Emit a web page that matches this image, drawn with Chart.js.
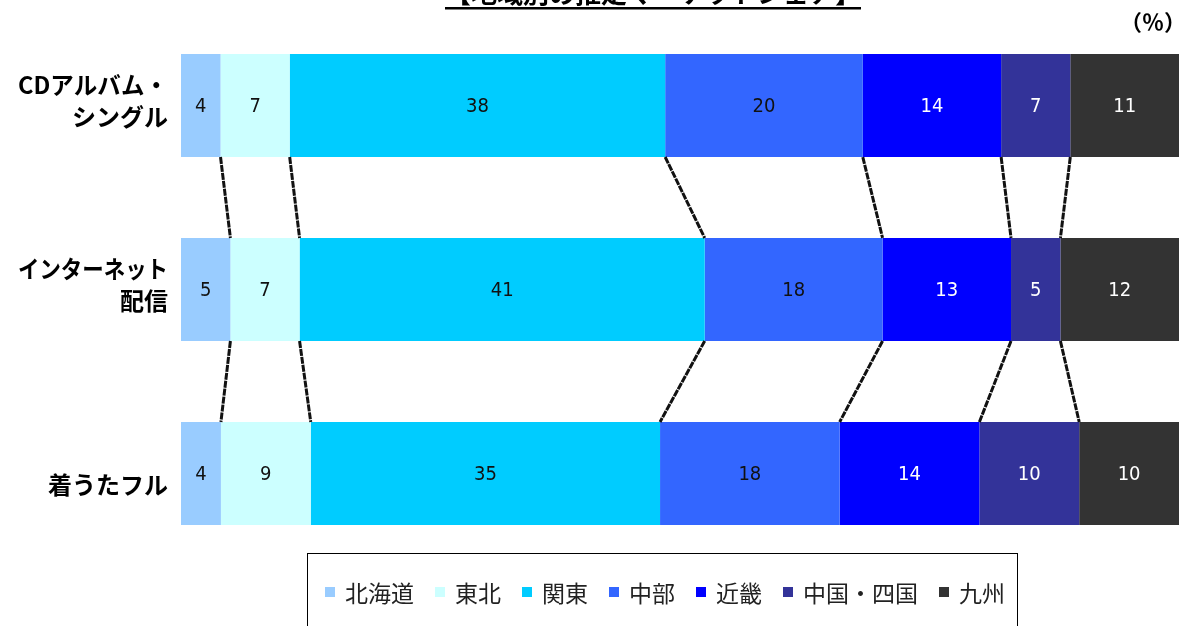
<!DOCTYPE html>
<html>
<head>
<meta charset="utf-8">
<script src="https://cdn.jsdelivr.net/npm/chart.js@4/dist/chart.umd.min.js"></script>
<style>
    html, body { margin: 0; padding: 0; background: #fff; }
    #wrap { width: 1179px; height: 626px; position: relative; }
</style>
</head>
<body>
<div id="wrap"><canvas id="shareData"></canvas></div>
<script>
// media categories (leading blank line keeps the last label low like the original sheet)
const categories = [
    ['CDアルバム・', 'シングル'],
    ['インターネット', '配信'],
    ['', '着うたフル']
];

// regions, and each region's share per category (%)
const regions = ['北海道', '東北', '関東', '中部', '近畿', '中国・四国', '九州'];
const hokkaido = [4, 5, 4];
const tohoku = [7, 7, 9];
const kanto = [38, 41, 35];
const chubu = [20, 18, 18];
const kinki = [14, 13, 14];
const chugokuShikoku = [7, 5, 10];
const kyushu = [11, 12, 10];

const regionColors = ['#99CCFF', '#CCFFFF', '#00CCFF', '#3366FF', '#0000FF', '#333399', '#333333'];
const labelColors = ['#111', '#111', '#111', '#111', '#fff', '#fff', '#fff'];

const rawValues = [hokkaido, tohoku, kanto, chubu, kinki, chugokuShikoku, kyushu];

// 100% stacked: every row is scaled to its own total
const rowTotals = categories.map((c, i) => rawValues.reduce((s, arr) => s + arr[i], 0));

const shareChartData = {
    labels: categories,
    datasets: regions.map((name, k) => ({
        label: name,
        data: rawValues[k].map((v, i) => v / rowTotals[i] * 100),
        raw: rawValues[k],
        backgroundColor: regionColors[k],
        borderWidth: 0,
        barPercentage: 1,
        categoryPercentage: 0.56
    }))
};

const jpFont = '"Noto Sans CJK JP", "Noto Sans", sans-serif';

// series lines between the stacked bars
const seriesLines = {
    id: 'seriesLines',
    afterDatasetsDraw(chart) {
        const ctx = chart.ctx;
        ctx.save();
        ctx.strokeStyle = '#111';
        ctx.lineWidth = 3;
        ctx.setLineDash([7, 1]);
        for (let k = 0; k < chart.data.datasets.length - 1; k++) {
            const bars = chart.getDatasetMeta(k).data;
            for (let i = 0; i < bars.length - 1; i++) {
                const a = bars[i], b = bars[i + 1];
                ctx.beginPath();
                ctx.moveTo(a.x, a.y + a.height / 2);
                ctx.lineTo(b.x, b.y - b.height / 2);
                ctx.stroke();
            }
        }
        ctx.restore();
    }
};

// value labels in the middle of every segment
const valueLabels = {
    id: 'valueLabels',
    afterDatasetsDraw(chart) {
        const ctx = chart.ctx;
        ctx.save();
        ctx.font = '20px "DejaVu Sans Condensed", "DejaVu Sans", sans-serif';
        ctx.textAlign = 'center';
        ctx.textBaseline = 'middle';
        chart.data.datasets.forEach((ds, k) => {
            ctx.fillStyle = labelColors[k];
            chart.getDatasetMeta(k).data.forEach((bar, i) => {
                ctx.fillText(String(ds.raw[i]), (bar.x + bar.base) / 2, bar.y + 1);
            });
        });
        ctx.restore();
    }
};

// category names, drawn by hand so the tall two-line labels don't push the plot down
const categoryLabels = {
    id: 'categoryLabels',
    afterDraw(chart) {
        const ctx = chart.ctx;
        const yScale = chart.scales.y;
        const lineH = 32;
        ctx.save();
        ctx.fillStyle = '#000';
        ctx.font = 'bold 24px ' + jpFont;
        ctx.textAlign = 'right';
        ctx.textBaseline = 'middle';
        chart.data.labels.forEach((lines, i) => {
            const cy = yScale.getPixelForTick(i) - 5;
            const top = cy - (lines.length - 1) * lineH / 2;
            lines.forEach((line, j) => {
                // long katakana lines get squeezed like the proportional original
                ctx.fillText(line, 168, top + j * lineH, 150);
            });
        });
        ctx.restore();
    }
};

// title (runs off the top edge), unit note and the boxed legend
const decorations = {
    id: 'decorations',
    afterDraw(chart) {
        const ctx = chart.ctx;
        ctx.save();

        ctx.fillStyle = '#000';
        ctx.font = 'bold 26px ' + jpFont;
        ctx.textAlign = 'center';
        ctx.textBaseline = 'alphabetic';
        const title = '【地域別の推定マーケットシェア】';
        const tw = ctx.measureText(title).width;
        ctx.fillText(title, 653, 3);
        ctx.fillRect(653 - tw / 2, 7, tw, 2.5);

        ctx.font = 'bold 22px ' + jpFont;
        ctx.textAlign = 'right';
        ctx.textBaseline = 'middle';
        ctx.fillText('（％）', 1186, 22);

        // legend box
        ctx.fillStyle = '#fff';
        ctx.fillRect(307, 553, 710, 80);
        ctx.strokeStyle = '#000';
        ctx.lineWidth = 1;
        ctx.strokeRect(307.5, 553.5, 710, 80);

        ctx.font = '23px ' + jpFont;
        ctx.textAlign = 'left';
        const box = 10, gapIn = 10, gapOut = 21;
        const widths = chart.data.datasets.map(ds => box + gapIn + ctx.measureText(ds.label).width);
        const total = widths.reduce((s, w) => s + w, 0) + gapOut * (widths.length - 1);
        let x = 665 - total / 2;
        const cy = 592;
        chart.data.datasets.forEach((ds, k) => {
            ctx.fillStyle = ds.backgroundColor;
            ctx.fillRect(x, cy - 5, box, box);
            ctx.fillStyle = '#222';
            ctx.fillText(ds.label, x + box + gapIn, cy + 1);
            x += widths[k] + gapOut;
        });

        ctx.restore();
    }
};

const shareChartConfig = {
    type: 'bar',
    data: shareChartData,
    options: {
        indexAxis: 'y',
        responsive: true,
        maintainAspectRatio: false,
        animation: false,
        layout: {
            padding: { top: 13.5, bottom: 60.5, left: 0, right: 0 }
        },
        plugins: {
            legend: { display: false },
            tooltip: { enabled: false }
        },
        scales: {
            x: {
                stacked: true,
                min: 0,
                max: 100,
                display: false
            },
            y: {
                stacked: true,
                grid: { display: false },
                border: { display: false },
                ticks: { display: false },
                afterFit(scale) {
                    scale.width = 181;
                }
            }
        }
    },
    plugins: [seriesLines, valueLabels, categoryLabels, decorations]
};

const shareChart = new Chart(document.getElementById('shareData'), shareChartConfig);
</script>
</body>
</html>
